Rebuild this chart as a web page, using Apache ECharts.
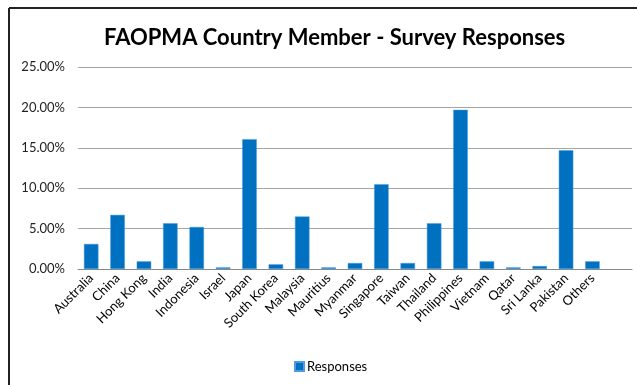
<!DOCTYPE html>
<html>
<head>
<meta charset="utf-8">
<script src="https://cdn.jsdelivr.net/npm/echarts@6/dist/echarts.min.js"></script>
<style>html,body{margin:0;padding:0;background:#fff;}#c{width:637px;height:385px;}</style>
</head>
<body>
<div id="c"></div>
<script>
var titleText = 'FAOPMA Country Member - Survey Responses';
var categories = ['Australia','China','Hong Kong','India','Indonesia','Israel','Japan','South Korea','Malaysia','Mauritius','Myanmar','Singapore','Taiwan','Thailand','Philippines','Vietnam','Qatar','Sri Lanka','Pakistan','Others',''];
var responses = [3.1, 6.7, 0.95, 5.66, 5.2, 0.2, 16.07, 0.58, 6.5, 0.2, 0.74, 10.5, 0.74, 5.66, 19.7, 0.95, 0.2, 0.37, 14.7, 0.95, null];
var seriesName = 'Responses';
var yMin = 0, yMax = 25, yStep = 5;

var chart = echarts.init(document.getElementById('c'), null, {renderer: 'canvas'});
chart.setOption({
  backgroundColor: '#fff',
  animation: false,
  title: {
    text: titleText,
    left: 99,
    top: 22,
    textStyle: {fontFamily: 'Lato', fontWeight: 'bold', fontSize: 22, color: '#000'}
  },
  legend: {
    data: [{name: seriesName, icon: 'rect'}],
    bottom: 7,
    left: 289,
    itemWidth: 9,
    itemHeight: 9,
    itemGap: 4,
    textStyle: {fontFamily: 'Lato', fontSize: 13, color: '#000', padding: [0, 0, 0, -2]}
  },
  grid: {left: 78, right: 5, top: 67, bottom: 116, containLabel: false},
  xAxis: {
    type: 'category',
    data: categories,
    axisLine: {lineStyle: {color: '#888'}},
    axisTick: {show: false},
    axisLabel: {rotate: 45, interval: 0, fontFamily: 'Lato', fontSize: 13, color: '#000', margin: 7}
  },
  yAxis: {
    type: 'value',
    min: yMin, max: yMax, interval: yStep,
    axisLine: {show: false},
    axisTick: {show: false},
    splitLine: {lineStyle: {color: '#a6a6a6'}},
    axisLabel: {fontFamily: 'Lato', fontSize: 13, color: '#222', margin: 13,
      formatter: function(v){ return v.toFixed(2) + '%'; }}
  },
  series: [{
    name: seriesName,
    type: 'bar',
    data: responses,
    barCategoryGap: '45%',
    itemStyle: {color: '#0070C0', borderColor: '#4a9be0', borderWidth: 0.5}
  }],
  graphic: [
    {type: 'line', shape: {x1: 9, y1: 8, x2: 637, y2: 8}, style: {stroke: '#222', lineWidth: 2}},
    {type: 'line', shape: {x1: 9, y1: 8, x2: 9, y2: 385}, style: {stroke: '#222', lineWidth: 2}}
  ]
});
</script>
</body>
</html>
